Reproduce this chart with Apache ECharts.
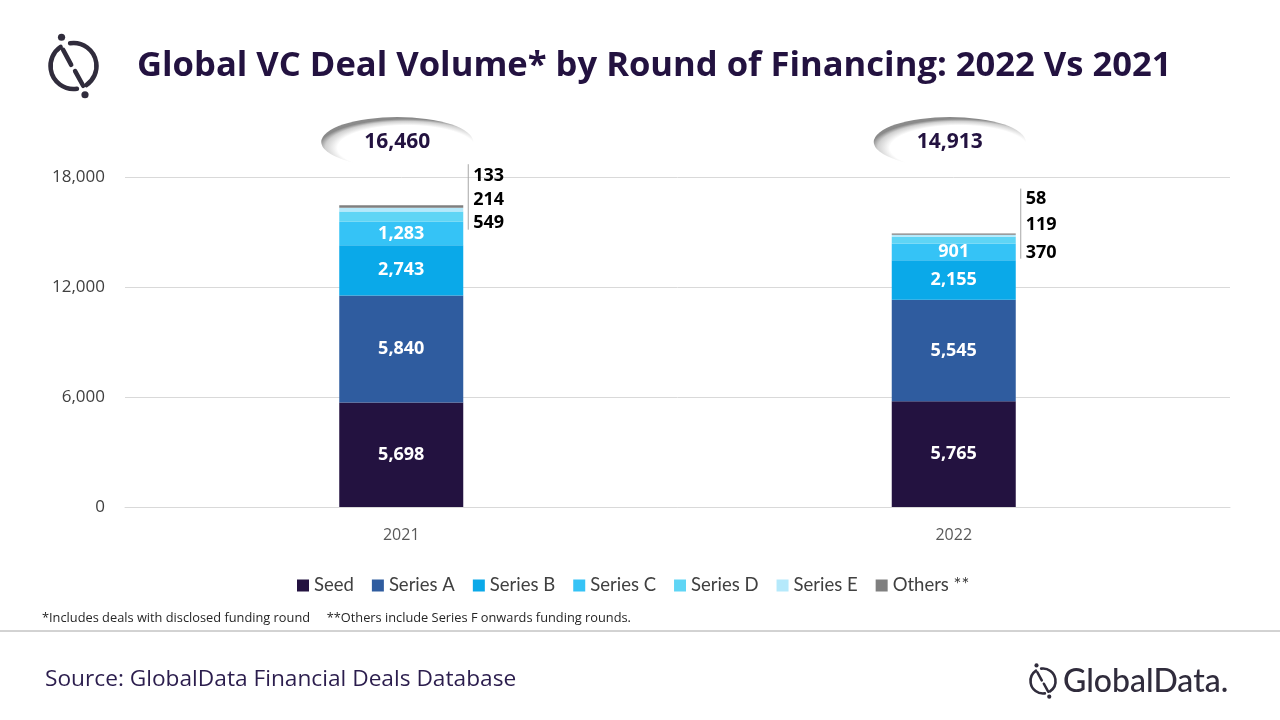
<!DOCTYPE html>
<html>
<head>
    <meta charset="utf-8">
    <title>Global VC Deal Volume</title>
    <script src="https://cdn.jsdelivr.net/npm/echarts@6/dist/echarts.min.js"></script>
    <style>
        html, body { margin: 0; padding: 0; background: #fff; }
        #main { width: 1280px; height: 720px; }
    </style>
</head>
<body>
<div id="main"></div>
<script type="text/javascript">
    var years = ['2021', '2022'];
    var seriesNames = ['Seed', 'Series A', 'Series B', 'Series C', 'Series D', 'Series E', 'Others **'];
    var seed = [5698, 5765];
    var seriesA = [5840, 5545];
    var seriesB = [2743, 2155];
    var seriesC = [1283, 901];
    var seriesD = [549, 370];
    var seriesE = [214, 119];
    var others = [133, 58];
    var totals = [16460, 14913];
    var yTicks = [0, 6000, 12000, 18000];

    var colors = ['#231240', '#2f5c9f', '#0aa9e9', '#35c3f6', '#5fd5f5', '#b5e9fb', '#7f7f7f'];
    var values = [seed, seriesA, seriesB, seriesC, seriesD, seriesE, others];
    // small segments: labels to the right, shifted up/down (per year)
    var sideOffset = {
        4: [6, 13],
        5: [-10, -11],
        6: [-31, -35]
    };

    var myChart = echarts.init(document.getElementById('main'));

    function fmt(v) {
        return v.toLocaleString('en-US');
    }

    var series = values.map(function (arr, i) {
        return {
            name: seriesNames[i],
            type: 'bar',
            stack: 'total',
            barWidth: 124,
            itemStyle: { color: colors[i] },
            data: arr.map(function (v, j) {
                var item = { value: v };
                if (sideOffset[i]) {
                    item.label = {
                        show: true,
                        position: 'right',
                        distance: 10,
                        offset: [0, sideOffset[i][j]],
                        color: '#000',
                        fontWeight: 'bold',
                        fontSize: 18
                    };
                }
                return item;
            }),
            label: {
                show: !sideOffset[i],
                position: 'inside',
                color: '#fff',
                fontWeight: 'bold',
                fontSize: 18,
                fontFamily: 'Open Sans',
                formatter: function (p) { return fmt(p.value); }
            }
        };
    });

    var option = {
        animation: false,
        textStyle: { fontFamily: 'Open Sans' },
        grid: { left: 125, right: 50, top: 177, bottom: 213 },
        legend: {
            data: seriesNames,
            top: 571,
            left: 292,
            itemWidth: 12,
            itemHeight: 12,
            itemGap: 18,
            icon: 'rect',
            textStyle: { fontFamily: 'Lato', fontSize: 18.5, color: '#404040' }
        },
        xAxis: {
            type: 'category',
            data: years,
            axisTick: { show: false },
            axisLine: { lineStyle: { color: '#d9d9d9' } },
            axisLabel: { color: '#595959', fontSize: 16, margin: 20 }
        },
        yAxis: {
            type: 'value',
            min: yTicks[0],
            max: yTicks[yTicks.length - 1],
            interval: 6000,
            splitLine: { lineStyle: { color: '#d9d9d9' } },
            axisLabel: {
                color: '#404040',
                fontSize: 17,
                margin: 20,
                formatter: function (v) { return fmt(v); }
            }
        },
        series: series
    };
    myChart.setOption(option);

    // decorations placed from the chart's own scales
    var g = [];
    years.forEach(function (y, j) {
        var cx = myChart.convertToPixel({ xAxisIndex: 0 }, y);
        var topY = myChart.convertToPixel({ yAxisIndex: 0 }, totals[j]);
        var dBottom = myChart.convertToPixel({ yAxisIndex: 0 }, totals[j] - others[j] - seriesE[j] - seriesD[j]);
        var lx = cx + 62 + 5;
        g.push({
            type: 'line',
            shape: { x1: lx, y1: topY + sideOffset[6][j] - 10, x2: lx, y2: dBottom + sideOffset[4][j] + 2 },
            style: { stroke: '#a6a6a6', lineWidth: 1 }
        });
        // shaded oval behind the total (circle stretched horizontally)
        g.push({
            type: 'circle',
            x: cx - 4, y: 142,
            scaleX: 76 / 25,
            shape: { cx: 0, cy: 0, r: 25 },
            style: {
                fill: {
                    type: 'radial', x: 0.56, y: 0.62, r: 0.58,
                    colorStops: [
                        { offset: 0, color: '#ffffff' },
                        { offset: 0.78, color: '#ffffff' },
                        { offset: 0.92, color: '#d0d0d0' },
                        { offset: 1, color: '#8a8a8a' }
                    ]
                }
            }
        });
        g.push({
            type: 'text',
            x: cx - 4, y: 142,
            style: {
                text: fmt(totals[j]),
                fill: '#231240',
                font: 'bold 21px "Open Sans"',
                align: 'center',
                verticalAlign: 'middle'
            }
        });
    });

    // logo mark
    function logo(cx, cy, r, w, color) {
        var st = { stroke: color, lineWidth: w, fill: null, lineCap: 'round' };
        return {
            type: 'group',
            children: [
                { type: 'arc', shape: { cx: cx, cy: cy, r: r, startAngle: -1.72, endAngle: 0.98 }, style: st },
                { type: 'arc', shape: { cx: cx, cy: cy, r: r, startAngle: 1.42, endAngle: 4.12 }, style: st },
                { type: 'line', shape: { x1: cx - r * 0.45, y1: cy - r * 0.7, x2: cx - r * 0.1, y2: cy - r * 0.05 }, style: st },
                { type: 'line', shape: { x1: cx + r * 0.07, y1: cy + r * 0.22, x2: cx + r * 0.42, y2: cy + r * 0.86 }, style: st },
                { type: 'circle', shape: { cx: cx - r * 0.52, cy: cy - r * 1.25, r: w * 0.8 }, style: { fill: color } },
                { type: 'circle', shape: { cx: cx + r * 0.5, cy: cy + r * 1.25, r: w * 0.8 }, style: { fill: color } }
            ]
        };
    }
    g.push(logo(73.5, 66, 23, 4.5, '#302c3c'));
    g.push(logo(1043, 681, 12.5, 2.6, '#302c3c'));

    g.push({
        type: 'text', x: 137, y: 66,
        style: {
            text: 'Global VC Deal Volume* by Round of Financing: 2022 Vs 2021',
            fill: '#231240', font: 'bold 34.6px "Open Sans"', verticalAlign: 'middle'
        }
    });
    g.push({
        type: 'text', x: 42, y: 618,
        style: {
            text: '*Includes deals with disclosed funding round     **Others include Series F onwards funding rounds.',
            fill: '#262626', font: '12.8px "Open Sans"', verticalAlign: 'middle'
        }
    });
    g.push({
        type: 'line',
        shape: { x1: 0, y1: 631, x2: 1280, y2: 631 },
        style: { stroke: '#a6a6a6', lineWidth: 1 }
    });
    g.push({
        type: 'text', x: 45, y: 680,
        style: {
            text: 'Source: GlobalData Financial Deals Database',
            fill: '#2b1d4d', font: '22.7px "Open Sans"', verticalAlign: 'middle'
        }
    });
    g.push({
        type: 'text', x: 1063, y: 682,
        style: {
            text: 'GlobalData.',
            fill: '#302c3c', font: '500 32px "Lato"', verticalAlign: 'middle'
        }
    });

    myChart.setOption({ graphic: g });
</script>
</body>
</html>
